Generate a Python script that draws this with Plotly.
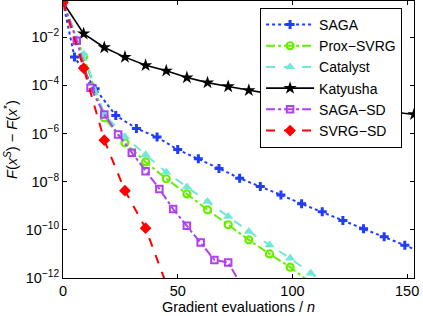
import plotly.graph_objects as go

# exponents (log10 of F(x^s)-F(x*))
saga_x = [0, 5, 14, 23, 32, 41, 50, 59, 68, 77, 86, 95, 104, 113, 122, 131, 140, 149, 158]
saga_e = [-0.55, -2.82, -4.14, -5.25, -5.79, -6.15, -6.67, -7.05, -7.45, -7.86, -8.20, -8.55,
          -8.92, -9.25, -9.61, -9.96, -10.29, -10.64, -11.0]

prox_x = [0, 9, 18, 27, 36, 45, 54, 63, 72, 81, 90, 99, 108]
prox_e = [-0.55, -2.8, -5.35, -6.39, -7.18, -7.88, -8.51, -9.17, -9.79, -10.42, -11.0, -11.55, -12.2]

cat_x = [0, 9, 18, 27, 36, 45, 54, 63, 72, 81, 90, 99, 108, 117]
cat_e = [-0.55, -2.7, -5.2, -6.14, -6.88, -7.61, -8.22, -8.82, -9.45, -10.07, -10.63, -11.18, -11.80, -12.43]

kat_x = [0, 9, 18, 27, 36, 45, 54, 63, 72, 81, 90, 99, 108, 117, 126, 135, 144, 153]
kat_e = [-0.55, -1.86, -2.43, -2.83, -3.17, -3.40, -3.68, -3.89, -4.05, -4.21, -4.36, -4.50,
         -4.64, -4.77, -4.89, -5.00, -5.11, -5.21]

sagasd_x = [0, 6, 12, 18, 24, 30, 36, 42, 48, 54, 60, 66, 72, 78]
sagasd_e = [-0.55, -2.15, -4.10, -5.21, -6.04, -6.80, -7.57, -8.30, -9.14, -9.83, -10.53, -11.25, -11.36, -12.35]

svrgsd_x = [0, 9, 18, 27, 36, 45]
svrgsd_e = [-0.55, -3.29, -6.28, -8.375, -9.93, -12.25]

names = ["SAGA", "Prox−SVRG", "Catalyst", "Katyusha", "SAGA−SD", "SVRG−SD"]

ytick_exps = [-2, -4, -6, -8, -10, -12]
xtick_vals = [0, 50, 100, 150]

FONT = "Liberation Sans, Arial, Helvetica, sans-serif"
FS = 14.5

series = [
    (saga_x, saga_e, dict(color="#1f3cff", width=2, dash="dot"),
     dict(symbol="cross", size=7.5, color="#1f3cff")),
    (prox_x, prox_e, dict(color="#66ee00", width=2, dash="dashdot"),
     dict(symbol="circle-open", size=7, color="#66ee00", line=dict(width=2.2, color="#66ee00"))),
    (cat_x, cat_e, dict(color="#6fe8d8", width=2, dash="dash"),
     dict(symbol="triangle-up", size=9, color="#6fe8d8")),
    (kat_x, kat_e, dict(color="black", width=1.6, dash="solid"),
     dict(symbol="star", size=10, color="black")),
    (sagasd_x, sagasd_e, dict(color="#b040f0", width=2, dash="dashdot"),
     dict(symbol="square-open", size=6.5, color="#b040f0", line=dict(width=2, color="#b040f0"))),
    (svrgsd_x, svrgsd_e, dict(color="#ff0000", width=2, dash="dash"),
     dict(symbol="diamond", size=9, color="#ff0000")),
]

fig = go.Figure()
for name, (xs, es, ln, mk) in zip(names, series):
    fig.add_trace(go.Scatter(
        x=xs, y=[10 ** e for e in es], name=name, mode="lines+markers",
        line=ln, marker=mk, cliponaxis=True,
    ))

fig.update_layout(
    width=423, height=316,
    margin=dict(l=63, r=9, t=1, b=38),
    paper_bgcolor="white", plot_bgcolor="white",
    font=dict(family=FONT, size=FS, color="black"),
    showlegend=True,
    legend=dict(
        x=0.966, y=0.975, xanchor="right", yanchor="top",
        bgcolor="white", bordercolor="black", borderwidth=1,
        font=dict(family=FONT, size=14, color="black"),
        tracegroupgap=0, itemwidth=48,
    ),
    xaxis=dict(
        range=[0, 153], tickvals=xtick_vals, ticktext=[str(v) for v in xtick_vals],
        ticks="inside", ticklen=4, tickcolor="black", showgrid=False, zeroline=False,
        showline=True, linecolor="black", linewidth=1, mirror="allticks",
        title=dict(text="Gradient evaluations / <i>n</i>", standoff=2,
                   font=dict(family=FONT, size=FS)),
        tickfont=dict(family=FONT, size=FS),
    ),
    yaxis=dict(
        type="log", range=[-12, -0.5],
        tickvals=[10 ** e for e in ytick_exps],
        ticktext=["10<sup>−%d</sup>" % (-e) for e in ytick_exps],
        ticks="inside", ticklen=4, tickcolor="black", showgrid=False, zeroline=False,
        showline=True, linecolor="black", linewidth=1, mirror="allticks",
        title=dict(text="<i>F</i>(<i>x</i><sup><i>S</i></sup>) − <i>F</i>(<i>x</i><sup>*</sup>)",
                   standoff=4, font=dict(family=FONT, size=FS)),
        tickfont=dict(family=FONT, size=FS),
    ),
)

fig.write_html("out.html", config={"displayModeBar": False},
               post_script="document.body.style.margin='0px';")
